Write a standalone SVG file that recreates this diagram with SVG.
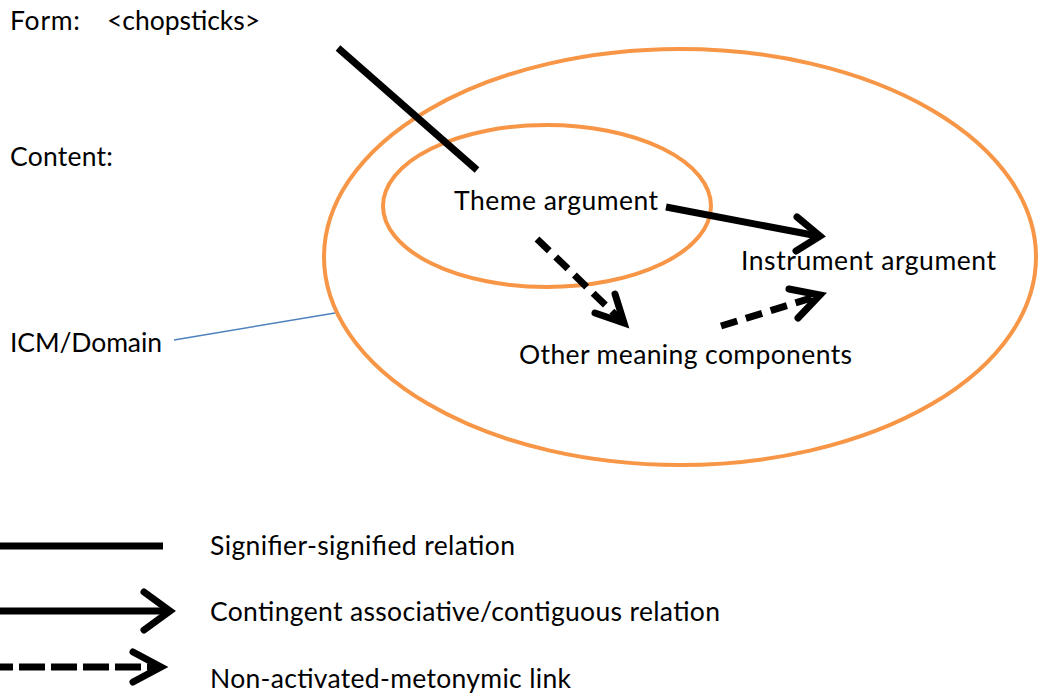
<svg xmlns="http://www.w3.org/2000/svg" width="1041" height="694" viewBox="0 0 1041 694">
<style>
text{font-family:Lato,"Open Sans","Liberation Sans",sans-serif;font-size:26.5px;fill:#000}
.ell{fill:none;stroke:#F79646;stroke-width:4}
.ln{fill:none;stroke:#000;stroke-width:7;stroke-linecap:butt}
.hd{fill:none;stroke:#000;stroke-width:7;stroke-linecap:round;stroke-linejoin:miter}
.ds{stroke-dasharray:17 9}
</style>
<rect width="1041" height="694" fill="#fff"/>
<g id="labels">
<text x="10" y="30" textLength="70">Form:</text>
<text x="107" y="30" textLength="153">&lt;chopsticks&gt;</text>
<text x="10" y="166" textLength="103">Content:</text>
<text x="10" y="352" textLength="152">ICM/Domain</text>
</g>
<g id="icm-domain">
<ellipse class="ell" cx="680" cy="257" rx="356" ry="208"/>
</g>
<g id="inner-domain">
<ellipse class="ell" cx="547" cy="206" rx="164" ry="81"/>
</g>
<g id="theme-argument"><text x="454" y="210" textLength="204">Theme argument</text></g>
<g id="instrument-argument"><text x="741" y="270" textLength="255">Instrument argument</text></g>
<g id="other-meaning-components"><text x="519" y="364" textLength="333">Other meaning components</text></g>
<g id="connectors">
<line x1="174" y1="340" x2="335" y2="313" stroke="#4F81BD" stroke-width="1.5"/>
<line class="ln" x1="338" y1="48" x2="477" y2="170" stroke-width="7.5"/>
<line class="ln" x1="666" y1="207" x2="818" y2="236"/>
<polyline class="hd" points="797,217 820,236 796,251"/>
<line class="ln ds" x1="537" y1="239" x2="622" y2="321"/>
<polyline class="hd" points="615,294 624,323 595,313"/>
<line class="ln ds" x1="721" y1="326" x2="818" y2="296"/>
<polyline class="hd" points="789,289 820,295 798,318"/>
</g>
<g id="legend">
<line class="ln" x1="0" y1="546" x2="163" y2="546" stroke-width="8"/>
<text x="210" y="555" textLength="305">Signifier-signified relation</text>
<line class="ln" x1="0" y1="611" x2="168" y2="611" stroke-width="8"/>
<polyline class="hd" points="144,592 170,611 144,630" stroke-width="8"/>
<text x="210" y="621" textLength="510">Contingent associative/contiguous relation</text>
<line class="ln" x1="0" y1="667" x2="158" y2="667" stroke-width="8" stroke-dasharray="26 6" stroke-dashoffset="13"/>
<polyline class="hd" points="133,652 161,667 133,682" stroke-width="8"/>
<text x="210" y="688" textLength="361">Non-activated-metonymic link</text>
</g>
</svg>
